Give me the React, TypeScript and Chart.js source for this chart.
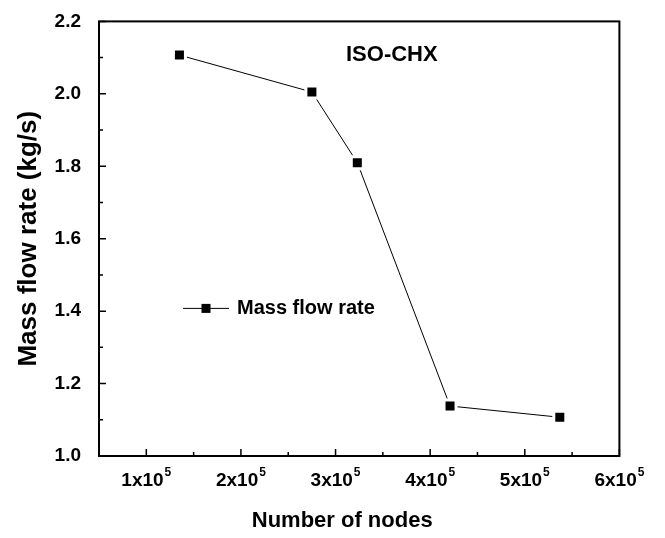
import { useEffect, useRef } from "react";
import { Chart, registerables } from "chart.js";

Chart.register(...registerables);

// ---- data ----
const nodeCounts = [135000, 275000, 323000, 421000, 537000];
const massFlowRates = [2.107, 2.005, 1.81, 1.138, 1.107];
const xTickValues = [100000, 200000, 300000, 400000, 500000, 600000];
const xTickMantissas = ["1", "2", "3", "4", "5", "6"];
const xTickExponent = "5";
const xMinorValues = [150000, 250000, 350000, 450000, 550000];
const yTickValues = [1.0, 1.2, 1.4, 1.6, 1.8, 2.0, 2.2];
const yMinorValues = [1.1, 1.3, 1.5, 1.7, 1.9, 2.1];
const seriesLabel = "Mass flow rate";
const annotationText = "ISO-CHX";
const xAxisTitle = "Number of nodes";
const yAxisTitle = "Mass flow rate (kg/s)";

const FONT = "'Liberation Sans', Arial, Helvetica, sans-serif";
const TICK_SIZE = 19;

const framePlugin = {
  id: "framePlugin",
  afterDraw(chart: any) {
    const { ctx, chartArea } = chart;
    const { left, right, top, bottom } = chartArea;
    const xs = chart.scales.x;
    const ys = chart.scales.y;
    ctx.save();
    ctx.strokeStyle = "#000";
    ctx.fillStyle = "#000";
    ctx.lineWidth = 2;
    ctx.strokeRect(left, top, right - left, bottom - top);
    ctx.lineWidth = 1.5;
    ctx.beginPath();
    xTickValues.forEach((v) => {
      const px = xs.getPixelForValue(v);
      ctx.moveTo(px, bottom);
      ctx.lineTo(px, bottom - 7);
    });
    xMinorValues.forEach((v) => {
      const px = xs.getPixelForValue(v);
      ctx.moveTo(px, bottom);
      ctx.lineTo(px, bottom - 4);
    });
    yTickValues.forEach((v) => {
      const py = ys.getPixelForValue(v);
      ctx.moveTo(left, py);
      ctx.lineTo(left + 7, py);
    });
    yMinorValues.forEach((v) => {
      const py = ys.getPixelForValue(v);
      ctx.moveTo(left, py);
      ctx.lineTo(left + 4, py);
    });
    ctx.stroke();

    // x tick labels with superscript
    const labelY = bottom + 25;
    xTickValues.forEach((v, i) => {
      const px = xs.getPixelForValue(v);
      const base = xTickMantissas[i] + "x10";
      ctx.font = `bold ${TICK_SIZE}px ${FONT}`;
      const wBase = ctx.measureText(base).width;
      ctx.font = `bold 12px ${FONT}`;
      const wExp = ctx.measureText(xTickExponent).width;
      const total = wBase + wExp + 1;
      const x0 = px - total / 2;
      ctx.textBaseline = "middle";
      ctx.textAlign = "left";
      ctx.font = `bold ${TICK_SIZE}px ${FONT}`;
      ctx.fillText(base, x0, labelY);
      ctx.font = `bold 12px ${FONT}`;
      ctx.fillText(xTickExponent, x0 + wBase + 1, labelY - 8);
    });

    // axis titles
    ctx.textAlign = "center";
    ctx.textBaseline = "middle";
    ctx.font = `bold 22px ${FONT}`;
    ctx.fillText(xAxisTitle, (left + right) / 2 - 17, 521);
    ctx.save();
    ctx.translate(29, (top + bottom) / 2);
    ctx.rotate(-Math.PI / 2);
    ctx.font = `bold 26px ${FONT}`;
    ctx.fillText(yAxisTitle, 0, 0);
    ctx.restore();

    // annotation
    ctx.font = `bold 22px ${FONT}`;
    ctx.textAlign = "left";
    ctx.textBaseline = "middle";
    ctx.fillText(annotationText, left + 247, top + 34);

    // legend
    const ly = top + 287;
    const lx = left + 84;
    ctx.lineWidth = 1;
    ctx.beginPath();
    ctx.moveTo(lx, ly);
    ctx.lineTo(lx + 46, ly);
    ctx.stroke();
    ctx.fillRect(lx + 23 - 4.5, ly - 4.5, 9, 9);
    ctx.font = `bold 20px ${FONT}`;
    ctx.fillText(seriesLabel, lx + 54, ly);
    ctx.restore();
  },
};

export default function App() {
  const canvasRef = useRef<HTMLCanvasElement | null>(null);

  useEffect(() => {
    const canvas = canvasRef.current;
    if (!canvas) return;
    const chart = new Chart(canvas, {
      type: "line",
      data: {
        datasets: [
          {
            label: seriesLabel,
            data: nodeCounts.map((x, i) => ({ x, y: massFlowRates[i] })),
            borderColor: "#000",
            borderWidth: 1,
            backgroundColor: "#000",
            pointStyle: "rect",
            pointRadius: 8.5,
            pointHoverRadius: 8.5,
            pointBackgroundColor: "#000",
            pointBorderColor: "#fff",
            pointBorderWidth: 3,
            tension: 0,
          },
        ],
      },
      options: {
        responsive: false,
        animation: false,
        layout: { padding: { left: 0, top: 17, right: 26, bottom: 0 } },
        plugins: {
          legend: { display: false },
          tooltip: { enabled: false },
        },
        scales: {
          x: {
            type: "linear",
            min: 50000,
            max: 600000,
            grid: { display: false },
            border: { display: false },
            afterBuildTicks: (scale: any) => {
              scale.ticks = xTickValues.map((value) => ({ value }));
            },
            afterFit: (scale: any) => {
              scale.height = 82;
            },
            ticks: {
              color: "rgba(0,0,0,0)",
              font: { family: FONT, size: TICK_SIZE, weight: "bold" },
              padding: 20,
              maxRotation: 0,
              callback: () => "0x10⁵",
            },
            title: { display: false },
          },
          y: {
            type: "linear",
            min: 1.0,
            max: 2.2,
            grid: { display: false },
            border: { display: false },
            afterBuildTicks: (scale: any) => {
              scale.ticks = yTickValues.map((value) => ({ value }));
            },
            afterFit: (scale: any) => {
              scale.width = 99;
            },
            ticks: {
              color: "#000",
              font: { family: FONT, size: TICK_SIZE, weight: "bold" },
              padding: 10,
              callback: (v: any) => Number(v).toFixed(1),
            },
            title: { display: false },
          },
        },
      },
      plugins: [framePlugin],
    });
    return () => chart.destroy();
  }, []);

  return (
    <div style={{ position: "fixed", left: 0, top: 0, width: 665, height: 538, background: "#fff" }}>
      <canvas ref={canvasRef} width={665} height={538} />
    </div>
  );
}
